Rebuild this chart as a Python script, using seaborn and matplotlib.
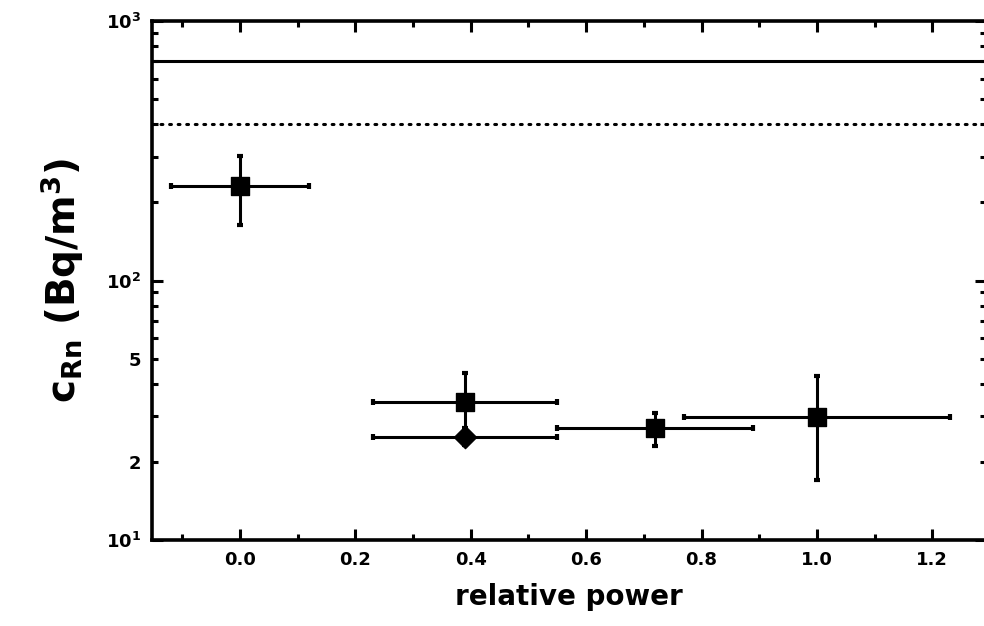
import seaborn as sns
import pandas as pd
import numpy as np
import matplotlib
matplotlib.use("Agg")
import matplotlib.pyplot as plt
from matplotlib.ticker import FixedLocator, FixedFormatter, MultipleLocator

# measured radon concentration vs. relative reactor power
power = [0.0, 0.39, 0.72, 1.0]
conc = [231, 34, 27, 29.8]
conc_lo = [164, 25, 23, 17]
conc_hi = [302, 44, 31, 43]
power_err = [0.12, 0.16, 0.17, 0.23]

# second point at 0.39 (round marker)
power_b = [0.39]
conc_b = [25]
conc_b_lo = [23.2]
conc_b_hi = [27]
power_b_err = [0.16]

limit_solid = 700
limit_dotted = 400

sns.set_style("ticks")
plt.rcParams['font.family'] = ['DejaVu Sans']
plt.rcParams['mathtext.default'] = 'regular'
plt.rcParams['text.color'] = 'k'
plt.rcParams['axes.labelcolor'] = 'k'

df = pd.DataFrame({"power": power, "conc": conc})
df_b = pd.DataFrame({"power": power_b, "conc": conc_b})

fig = plt.figure(figsize=(9.84, 6.26), dpi=100)
ax = fig.add_axes([0.1545, 0.137, 0.8475, 0.8295])

ax.set_yscale("log")
ax.set_xlim(-0.1525, 1.293)
ax.set_ylim(10, 1000)

ax.axhline(limit_solid, color='k', lw=2.2)
ax.axhline(limit_dotted, color='k', lw=2.2, ls=(0, (0.6, 2.2)), dash_capstyle='round')

yerr = [np.array(conc) - np.array(conc_lo), np.array(conc_hi) - np.array(conc)]
ax.errorbar(power, conc, xerr=power_err, yerr=yerr, fmt='none', ecolor='k',
            elinewidth=2.2, capsize=2.5, capthick=3)
yerr_b = [np.array(conc_b) - np.array(conc_b_lo), np.array(conc_b_hi) - np.array(conc_b)]
ax.errorbar(power_b, conc_b, xerr=power_b_err, yerr=yerr_b, fmt='none', ecolor='k',
            elinewidth=2.2, capsize=2.5, capthick=3)

sns.scatterplot(data=df, x="power", y="conc", marker='s', s=150, color='k',
                edgecolor='k', ax=ax, zorder=5)
sns.scatterplot(data=df_b, x="power", y="conc", marker='D', s=130, color='k',
                edgecolor='k', ax=ax, zorder=5)

# x ticks
ax.xaxis.set_major_locator(MultipleLocator(0.2))
ax.xaxis.set_minor_locator(MultipleLocator(0.1))
ax.xaxis.set_major_formatter(matplotlib.ticker.FormatStrFormatter('%.1f'))

# y ticks: decades plus labelled 2 and 5
ax.yaxis.set_major_locator(FixedLocator([10, 100, 1000]))
ax.yaxis.set_major_formatter(FixedFormatter([r'$\mathbf{10^1}$', r'$\mathbf{10^2}$', r'$\mathbf{10^3}$']))
minors = [m * d for d in (10, 100) for m in range(2, 10)]
ax.yaxis.set_minor_locator(FixedLocator(minors))
ax.yaxis.set_minor_formatter(FixedFormatter(['5' if m in (5, 50) else '2' if m in (2, 20) else '' for m in minors]))

ax.tick_params(which='both', direction='in', top=True, right=True, width=2.2,
               colors='k', labelcolor='k')
ax.tick_params(which='major', length=8, labelsize=13, pad=8)
ax.tick_params(which='minor', length=4, labelsize=13, pad=8)
for lab in ax.get_xticklabels() + ax.get_yticklabels(which='both'):
    lab.set_fontweight('bold')

for s in ax.spines.values():
    s.set_linewidth(2.6)
    s.set_color('k')

ax.set_xlabel("relative power", fontsize=20, fontweight='bold', labelpad=10)
ax.set_ylabel(r'c$_{Rn}$ (Bq/m$^3$)', fontsize=28, fontweight='bold', labelpad=14)

fig.savefig("out.png", dpi=100)
